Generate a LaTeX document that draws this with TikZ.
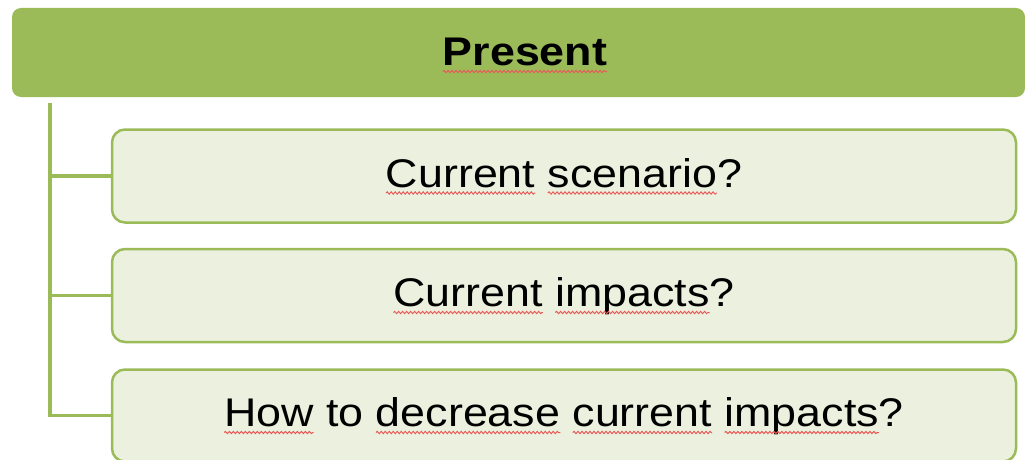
\documentclass[tikz,border=0pt]{standalone}
\usepackage{fontspec}
\setmainfont[FakeStretch=1.12]{Liberation Sans}
\usetikzlibrary{decorations.pathmorphing}
\definecolor{hdr}{HTML}{9BBB59}
\definecolor{boxfill}{HTML}{EBF1DE}
\definecolor{squig}{HTML}{E85A5A}
\newcommand\itemfont{\fontsize{40}{48}\selectfont}
\newcommand\headfont{\fontsize{40}{48}\selectfont\bfseries}
\newlength\sqW \newlength\sqP \newlength\sqL
% #1 node, #2 font, #3 whole text, #4 prefix, #5 word
\newcommand\sqword[5]{%
  \pgfinterruptpicture
    \settowidth\sqW{#2#3}\global\sqW=\sqW
    \settowidth\sqP{#2#4}\global\sqP=\sqP
    \settowidth\sqL{#2#5}\global\sqL=\sqL
  \endpgfinterruptpicture
  \draw[squiggle] ([xshift=-0.5\sqW+\sqP,yshift=-6pt]#1.base) -- ++(\sqL,0);}
\tikzset{
  header/.style={fill=hdr,draw=none,rounded corners=9pt,minimum width=1013pt,minimum height=89pt,inner sep=0pt},
  headtext/.style={font=\headfont,inner sep=0pt},
  itembox/.style={fill=boxfill,draw=hdr,line width=2.5pt,rounded corners=13pt,minimum width=904pt,inner sep=0pt,
    text height=30pt,text depth=8pt,font=\itemfont},
  conn/.style={draw=hdr,line width=3.5pt},
  squiggle/.style={draw=squig,line width=1pt,decorate,decoration={snake,amplitude=1.1pt,segment length=4pt}}
}
\begin{document}
\begin{tikzpicture}[x=1pt,y=-1pt]
\useasboundingbox (0,0) rectangle (1025,460);
\node[header] (h) at (518.5,52.5) {};
\node[headtext] (ht) at (525,52) {Present};
\node[itembox,minimum height=93pt] (b1) at (564,176) {Current scenario?};
\node[itembox,minimum height=93pt] (b2) at (564,295.5) {Current impacts?};
\node[itembox,minimum height=92pt] (b3) at (564,415.5) {How to decrease current impacts?};
\coordinate (top) at (50,103);
\draw[conn] (top) |- (b3.west);
\draw[conn] (top |- b1.west) -- (b1.west);
\draw[conn] (top |- b2.west) -- (b2.west);
% spell-check underlines
\sqword{ht}{\headfont}{Present}{}{Present}
\sqword{b1}{\itemfont}{Current scenario?}{}{Current}
\sqword{b1}{\itemfont}{Current scenario?}{Current }{scenario}
\sqword{b2}{\itemfont}{Current impacts?}{}{Current}
\sqword{b2}{\itemfont}{Current impacts?}{Current }{impacts}
\sqword{b3}{\itemfont}{How to decrease current impacts?}{}{How}
\sqword{b3}{\itemfont}{How to decrease current impacts?}{How to }{decrease}
\sqword{b3}{\itemfont}{How to decrease current impacts?}{How to decrease }{current}
\sqword{b3}{\itemfont}{How to decrease current impacts?}{How to decrease current }{impacts}
\end{tikzpicture}
\end{document}
